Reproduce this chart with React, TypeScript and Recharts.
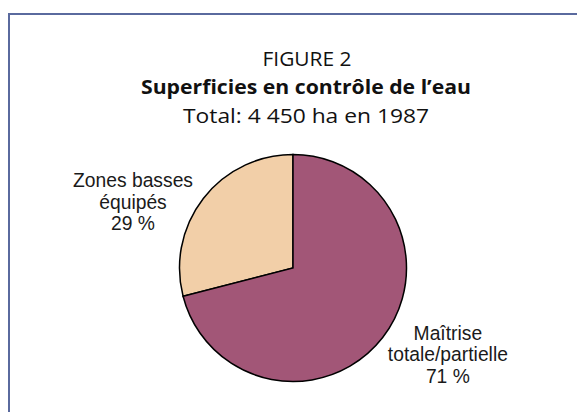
import { Cell, Pie, PieChart } from 'recharts'

const categories = [
  ['Zones basses', 'équipés'],
  ['Maîtrise', 'totale/partielle'],
]
const shares = [29, 71]
const colors = ['#f2cfa8', '#a25677']

const titleLines = ['FIGURE 2', 'Superficies en contrôle de l’eau', 'Total: 4 450 ha en 1987']

// per-slice nudges for the outside labels: [extra radius x, extra radius y]
const labelNudge = [
  [89, -16.5],
  [82.5, 39],
]

const data = categories.map((lines, i) => ({
  name: lines.join(' '),
  value: shares[i],
}))

const RAD = Math.PI / 180

function SliceLabel(props: any) {
  const { cx, cy, midAngle, outerRadius, index } = props
  const [nx, ny] = labelNudge[index]
  const x = cx + (outerRadius + nx) * Math.cos(-midAngle * RAD)
  const y = cy + (outerRadius + ny) * Math.sin(-midAngle * RAD)
  const lines = [...categories[index], `${shares[index]} %`]
  return (
    <text
      x={x}
      y={y}
      textAnchor="middle"
      fill="#1a1a1a"
      fontFamily="'Liberation Sans', Arial, sans-serif"
      fontSize={19.3}
    >
      {lines.map((l, i) => (
        <tspan key={i} x={x} y={y + (i - 1) * 21.5}>
          {l}
        </tspan>
      ))}
    </text>
  )
}

export default function App() {
  return (
    <div
      style={{
        position: 'absolute',
        left: 0,
        top: 0,
        width: 577,
        height: 412,
        overflow: 'hidden',
        background: '#fff',
      }}
    >
      <div
        style={{
          position: 'absolute',
          left: 8,
          top: 13,
          width: 800,
          height: 600,
          borderLeft: '2px solid #5a6a9e',
          borderTop: '2px solid #5a6a9e',
        }}
      />
      <svg
        width={577}
        height={140}
        style={{ position: 'absolute', left: 0, top: 0 }}
      >
        <g fontFamily="'Open Sans', sans-serif" fill="#111" textAnchor="middle" fontSize={20}>
          <text x={307} y={66} textLength={89} lengthAdjust="spacingAndGlyphs">
            {titleLines[0]}
          </text>
          <text x={306} y={94.3} fontWeight={700} textLength={330} lengthAdjust="spacingAndGlyphs">
            {titleLines[1]}
          </text>
          <text x={306} y={123.3} textLength={246} lengthAdjust="spacingAndGlyphs">
            {titleLines[2]}
          </text>
        </g>
      </svg>
      <div style={{ position: 'absolute', left: 0, top: 0 }}>
        <PieChart width={577} height={412} margin={{ top: 0, right: 0, bottom: 0, left: 0 }}>
          <Pie
            data={data}
            dataKey="value"
            nameKey="name"
            cx={293}
            cy={268}
            outerRadius={113.5}
            startAngle={90}
            endAngle={450}
            stroke="#000"
            strokeWidth={1.5}
            label={SliceLabel}
            labelLine={false}
            isAnimationActive={false}
          >
            {data.map((d, i) => (
              <Cell key={d.name} fill={colors[i]} stroke="#000" strokeWidth={1.5} />
            ))}
          </Pie>
        </PieChart>
      </div>
    </div>
  )
}
